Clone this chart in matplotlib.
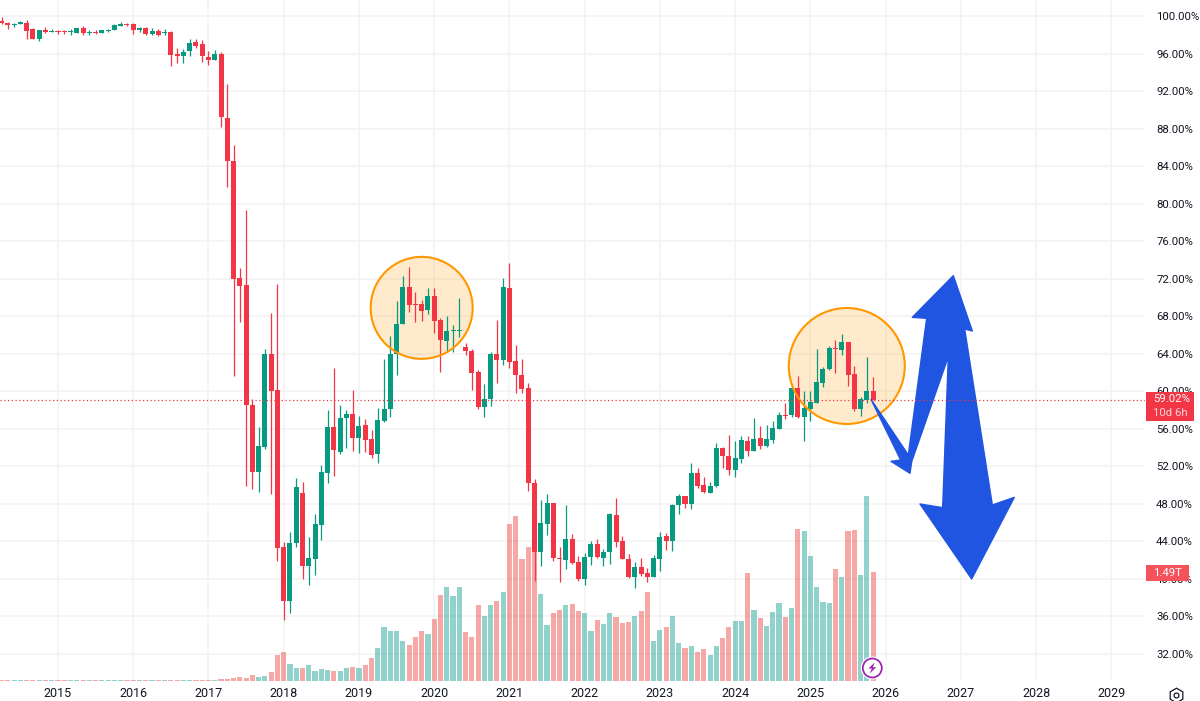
#!/usr/bin/env python

"""
Monthly dominance candles with volume, marked circles and hand drawn arrows.
"""

import numpy as np
import matplotlib
matplotlib.use('Agg')
import matplotlib.pyplot as plt
from matplotlib.patches import Circle, Ellipse, Polygon, Rectangle
from matplotlib.transforms import IdentityTransform

plt.rcParams['font.family'] = ['Roboto', 'DejaVu Sans']

# month index, 0 is January 2015
months = list(range(-9, 131))

opens = [99.43, 99.22, 99.04, 99.18, 99.22, 98.58, 97.58, 98.51, 98.33, 98.40, 98.40, 98.26, 98.19, 98.68, 98.22,
         98.29, 98.19, 98.44, 98.51, 98.97, 99.15, 99.15, 98.54, 98.68, 98.08, 98.44, 98.22, 98.29, 95.91, 95.73,
         96.23, 97.23, 97.01, 95.59, 95.34, 95.91, 89.15, 84.57, 72.09, 71.27, 58.47, 51.40, 54.06, 63.91, 60.10,
         43.40, 37.63, 43.75, 49.08, 41.37, 42.11, 45.70, 51.30, 56.12, 53.46, 57.10, 57.58, 55.02, 56.33, 54.88,
         53.28, 56.80, 58.04, 63.95, 67.15, 71.06, 69.28, 69.28, 68.67, 70.13, 67.54, 65.37, 66.40, 66.44, 64.69,
         64.30, 62.00, 58.33, 59.11, 64.00, 63.30, 70.95, 63.16, 61.70, 60.28, 50.22, 42.79, 45.81, 48.05, 42.15,
         41.97, 44.21, 41.72, 39.91, 42.26, 43.68, 42.22, 42.79, 46.81, 44.00, 42.04, 40.12, 41.22, 40.58, 40.19,
         42.11, 44.53, 43.96, 47.80, 48.76, 47.91, 51.25, 49.97, 49.15, 49.87, 53.95, 53.10, 51.60, 52.74, 54.70,
         53.63, 55.02, 54.16, 54.77, 55.98, 57.47, 57.40, 60.35, 57.22, 58.04, 58.75, 60.81, 62.31, 64.55, 64.33,
         65.22, 61.81, 58.11, 59.04, 60.00]
highs = [99.93, 99.40, 99.22, 99.43, 99.54, 98.68, 98.51, 98.79, 98.61, 98.51, 98.51, 98.65, 98.72, 98.93, 98.51,
         98.51, 98.54, 98.65, 99.11, 99.36, 99.29, 99.22, 98.83, 98.79, 98.68, 98.61, 98.58, 98.40, 96.62, 96.44,
         97.55, 97.55, 97.44, 96.23, 96.34, 96.12, 92.70, 86.27, 73.10, 79.30, 59.20, 56.12, 64.44, 68.28, 71.40,
         43.93, 44.96, 50.75, 50.26, 44.39, 46.84, 52.10, 57.97, 62.50, 58.50, 57.97, 60.10, 57.37, 56.97, 55.84,
         58.15, 63.40, 65.90, 69.60, 72.30, 73.20, 70.56, 69.70, 71.02, 70.95, 67.75, 68.03, 67.04, 69.88, 65.12,
         64.44, 62.24, 60.71, 64.20, 67.57, 72.09, 73.62, 64.90, 63.40, 60.82, 50.58, 48.37, 49.01, 48.05, 43.39,
         47.84, 44.74, 42.40, 42.75, 43.96, 44.21, 43.20, 47.02, 48.58, 44.53, 42.58, 41.76, 42.15, 41.08, 42.47,
         44.92, 44.82, 47.94, 49.01, 48.76, 52.28, 51.79, 50.86, 50.33, 54.41, 54.06, 55.30, 54.70, 55.20, 55.20,
         57.08, 56.26, 56.37, 56.80, 57.79, 58.68, 60.30, 61.60, 60.00, 60.00, 64.44, 62.52, 64.83, 65.44, 66.08,
         65.22, 62.63, 59.32, 63.59, 61.52]
lows = [99.15, 98.61, 98.83, 99.15, 97.55, 97.55, 97.37, 98.19, 98.29, 98.12, 98.12, 97.97, 98.19, 97.97, 97.97,
        98.08, 98.19, 98.29, 98.47, 98.93, 98.90, 98.08, 98.29, 98.01, 98.01, 97.90, 97.97, 94.70, 95.02, 95.02,
        95.73, 96.55, 95.09, 94.81, 95.31, 88.16, 81.72, 61.63, 67.40, 49.90, 49.60, 49.20, 53.78, 49.00, 41.90,
        35.57, 36.35, 43.40, 40.00, 39.30, 40.40, 44.10, 50.15, 50.97, 53.30, 53.88, 53.60, 53.35, 53.50, 52.90,
        52.30, 56.73, 57.26, 61.74, 67.15, 68.43, 67.32, 67.43, 68.18, 66.22, 62.06, 64.20, 64.20, 65.80, 63.84,
        60.10, 58.04, 57.26, 58.40, 60.89, 62.77, 62.50, 59.82, 59.82, 49.37, 39.77, 41.33, 44.64, 41.86, 39.66,
        41.01, 41.54, 39.77, 39.30, 41.44, 42.15, 41.37, 41.58, 43.32, 42.08, 40.09, 38.95, 40.30, 39.66, 40.16,
        40.83, 43.04, 42.90, 46.84, 47.55, 47.38, 49.65, 49.08, 49.12, 49.80, 51.82, 51.03, 50.86, 52.35, 53.06,
        53.60, 53.77, 54.06, 54.48, 55.94, 57.01, 57.19, 57.08, 54.70, 56.80, 58.68, 60.39, 62.24, 61.95, 63.84,
        60.53, 57.83, 57.33, 58.68, 59.02]
closes = [99.25, 99.08, 99.18, 99.32, 98.44, 97.58, 98.47, 98.29, 98.40, 98.33, 98.33, 98.33, 98.68, 98.19, 98.29,
          98.22, 98.51, 98.51, 99.00, 99.15, 99.08, 98.51, 98.68, 98.08, 98.36, 97.97, 98.29, 95.87, 95.77, 96.19,
          97.12, 96.84, 95.77, 95.34, 95.91, 89.23, 84.57, 72.00, 71.20, 58.47, 51.40, 54.17, 63.91, 60.00, 43.30,
          37.63, 43.75, 49.72, 41.37, 42.15, 45.78, 51.40, 56.12, 53.70, 57.15, 57.50, 55.02, 56.26, 54.77, 53.17,
          56.87, 58.08, 63.91, 67.11, 71.06, 69.21, 69.21, 68.57, 70.13, 67.47, 65.47, 66.40, 66.50, 66.50, 64.27,
          61.95, 58.33, 59.11, 64.00, 63.30, 71.06, 63.13, 61.74, 60.21, 50.15, 42.79, 45.88, 48.05, 42.15, 42.04,
          44.21, 41.62, 39.91, 42.26, 43.68, 42.26, 42.86, 46.91, 43.93, 42.11, 40.19, 41.22, 40.48, 40.19, 42.15,
          44.42, 44.00, 47.84, 48.76, 47.91, 51.25, 49.83, 49.26, 49.90, 53.95, 53.10, 51.57, 52.81, 54.77, 53.56,
          54.88, 54.16, 54.88, 56.01, 57.47, 57.33, 60.28, 57.19, 58.15, 58.79, 60.99, 62.34, 64.55, 64.44, 65.22,
          61.74, 58.11, 59.11, 60.00, 59.02]

# volume in trillions, the oldest bars are barely visible
volumes = [0.02, 0.02, 0.02, 0.02, 0.02, 0.02, 0.02, 0.02, 0.02, 0.02, 0.02, 0.02, 0.02, 0.02, 0.02,
           0.02, 0.02, 0.02, 0.02, 0.02, 0.02, 0.02, 0.02, 0.02, 0.02, 0.02, 0.02, 0.02, 0.02, 0.02,
           0.02, 0.02, 0.02, 0.02, 0.02, 0.025, 0.03, 0.04, 0.05, 0.036, 0.077, 0.05, 0.064, 0.118, 0.36,
           0.396, 0.228, 0.173, 0.173, 0.214, 0.132, 0.16, 0.146, 0.132, 0.132, 0.173, 0.187, 0.173, 0.214, 0.31,
           0.451, 0.734, 0.679, 0.679, 0.542, 0.492, 0.597, 0.679, 0.638, 0.852, 1.171, 1.29, 1.157, 1.29, 0.665,
           0.597, 1.034, 0.893, 1.034, 1.089, 1.212, 2.142, 2.26, 1.672, 1.832, 1.978, 1.185, 0.77, 0.93, 0.971,
           1.034, 1.048, 0.957, 0.93, 0.679, 0.829, 0.784, 0.93, 0.88, 0.797, 0.811, 0.893, 0.957, 1.221, 0.542,
           0.693, 0.734, 0.893, 0.515, 0.451, 0.478, 0.396, 0.437, 0.36, 0.478, 0.583, 0.734, 0.825, 0.825, 1.472,
           0.971, 0.866, 0.747, 0.943, 1.062, 0.88, 0.998, 2.073, 2.046, 1.713, 1.29, 1.075, 1.062, 1.527, 1.422,
           2.046, 2.06, 1.445, 2.525, 1.486]

years = [2015, 2016, 2017, 2018, 2019, 2020, 2021, 2022, 2023, 2024, 2025, 2026, 2027, 2028, 2029]
pct_ticks = [32, 36, 40, 44, 48, 52, 56, 60, 64, 68, 72, 76, 80, 84, 88, 92, 96, 100]
last_price = 59.02

UP = '#089981'
DOWN = '#f23645'
VOL_UP = '#26a69a'
VOL_DOWN = '#ef5350'
GRID = '#f3f3f4'
TEXT = '#131722'
ARROW = '#1f55e0'

W, H = 1200, 701
PANE_W, PANE_H = 1145, 681


def px(x, y):
    # screenshot pixels (top left origin) to display coordinates
    return (x, H - y)


fig = plt.figure(figsize=(W / 100, H / 100), dpi=100, facecolor='white')
rect = [0, 1 - PANE_H / H, PANE_W / W, PANE_H / H]

ax = fig.add_axes(rect)
xlim = (-58 / 6.27, (PANE_W - 58) / 6.27)
ylim = (29.07, 101.707)
ax.set(xlim=xlim, ylim=ylim)
ax.grid(color=GRID, lw=1.2)
ax.set_axisbelow(True)
for s in ax.spines.values():
    s.set_visible(False)

months = np.array(months)
opens, highs, lows, closes = map(np.array, (opens, highs, lows, closes))
rising = closes >= opens
colors = np.where(rising, UP, DOWN)

ax_vol = ax.twinx()
ax_vol.set_zorder(2)
ax_vol.patch.set_visible(False)
ax_vol.set_ylim(0, 9.31)
ax_vol.axis('off')
ax_vol.bar(months, volumes, width=0.82, color=np.where(rising, VOL_UP, VOL_DOWN), alpha=0.5, lw=0)

ax_c = ax.twinx()
ax_c.set_zorder(3)
ax_c.patch.set_visible(False)
ax_c.set_ylim(ylim)
ax_c.axis('off')
ax_c.vlines(months, lows, highs, color=colors, lw=0.9, zorder=3)
ax_c.bar(months, np.maximum(np.abs(closes - opens), 0.12), bottom=np.minimum(opens, closes),
         width=0.8, color=colors, lw=0, zorder=3)

# twinx moved the ticks, the scale belongs on the right
ax.set_xticks([(y - 2015) * 12 for y in years], [str(y) for y in years])
ax.set_yticks(pct_ticks, [f'{p:.2f}%' for p in pct_ticks])
ax.yaxis.tick_right()
ax.tick_params(length=0, labelcolor=TEXT)
ax.tick_params(axis='x', pad=4, labelsize=9)
ax.tick_params(axis='y', pad=8, labelsize=8.2)

# marked areas
for cx, cy, w, h in [(58.0, 68.87, 16.27, 10.88), (125.8, 62.67, 18.5, 12.37)]:
    ax_c.add_patch(Ellipse((cx, cy), w, h, facecolor='#ff9800', alpha=0.2, lw=0, zorder=1))
    ax_c.add_patch(Ellipse((cx, cy), w, h, fill=False, edgecolor='#ff9800', lw=1.5, zorder=4))

# hand drawn arrows, traced as one outline
arrow_zoom = [(33, 418), (145, 585), (200, 175), (157, 172), (280, 47), (337, 213), (314, 207), (397, 735),
              (463, 712), (335, 957), (180, 732), (248, 743), (265, 290), (155, 605), (150, 640), (93, 604),
              (122, 600)]
arrow_xy = [px(860 + x / 3, 260 + y / 3) for x, y in arrow_zoom]
ax_c.add_patch(Polygon(arrow_xy, closed=True, facecolor=ARROW, edgecolor=ARROW, lw=1, joinstyle='round',
                       transform=IdentityTransform(), zorder=5, clip_on=False))

ax_c.axhline(last_price, color=DOWN, lw=0.9, ls=(0, (1, 2)), zorder=6)

# price and volume labels on the scale
fig.add_artist(Rectangle(px(1146, 421), 48, 29.5, facecolor=DOWN, lw=0, transform=IdentityTransform(), zorder=5))
fig.add_artist(Rectangle(px(1146, 581), 42.5, 16.5, facecolor='#f5525c', lw=0, transform=IdentityTransform(), zorder=5))
for x, y, s, c in [(1153, 399, f'{last_price:.2f}%', 'white'), (1153, 413, '10d 6h', '#fcd5d8'), (1153, 573, '1.49T', 'white')]:
    fig.text(x / W, 1 - y / H, s, color=c, fontsize=8.2, va='center', ha='left', zorder=6)

# lightning badge on the last volume bar
bx, by = px(872.3, 668)
fig.add_artist(Circle((bx, by), 11.5, facecolor='white', lw=0, transform=IdentityTransform(), zorder=5))
fig.add_artist(Circle((bx, by), 9.5, facecolor='white', edgecolor='#9c27b0', lw=1.3, transform=IdentityTransform(), zorder=6))
bolt = [(2.5, 5.5), (-4, -0.5), (-0.5, -0.5), (-2.5, -5.5), (4, 0.8), (0.5, 0.8)]
fig.add_artist(Polygon([(bx + a, by + b) for a, b in bolt], closed=True, facecolor='#9c27b0', lw=0,
                       transform=IdentityTransform(), zorder=7))

# settings icon in the corner
gx, gy = px(1175.5, 694.5)
fig.add_artist(plt.Line2D([gx], [gy], marker='h', ms=10.5, mfc='none', mec=TEXT, mew=0.9, transform=IdentityTransform(), zorder=6))
fig.add_artist(plt.Line2D([gx], [gy], marker='o', ms=3.5, mfc='none', mec=TEXT, mew=0.9, transform=IdentityTransform(), zorder=6))

fig.savefig('out.png', dpi=100)
